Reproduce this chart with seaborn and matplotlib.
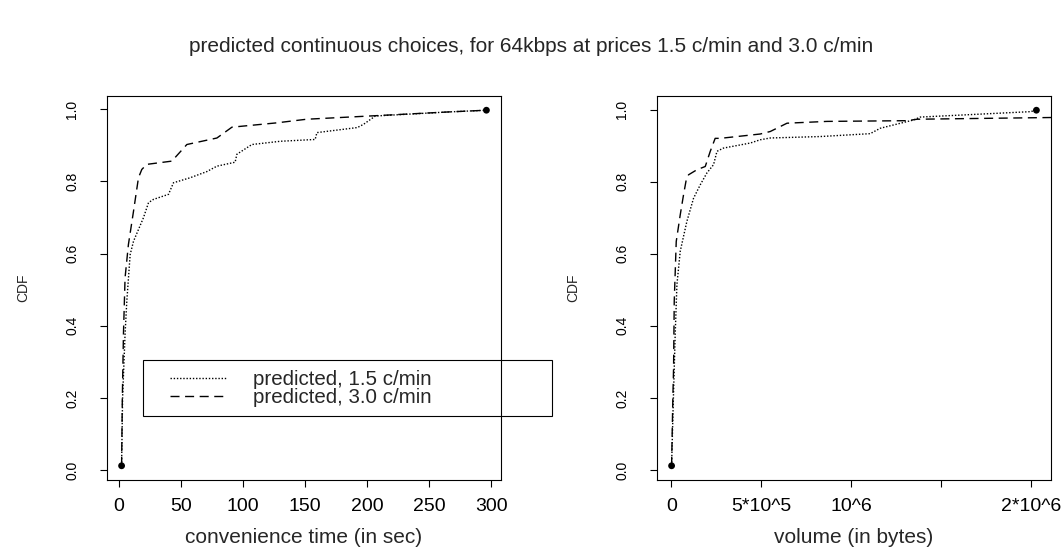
import numpy as np
import pandas as pd
import matplotlib
matplotlib.use("Agg")
import matplotlib.pyplot as plt
from matplotlib.patches import Rectangle
import seaborn as sns

# ---------------- data ----------------
title = "predicted continuous choices, for 64kbps at prices 1.5 c/min and 3.0 c/min"
series_labels = ["predicted, 1.5 c/min", "predicted, 3.0 c/min"]

# convenience time (sec)
time_x_15 = [2.0, 2.8, 4.8, 6.2, 8.9, 11.6, 19.6, 23.7, 27.7, 39.8, 43.8, 57.3, 70.7, 78.8,
             93.5, 94.9, 107, 130, 158, 159.4, 192, 197, 206.5, 264, 296]
time_y_15 = [0.012, 0.2, 0.377, 0.468, 0.597, 0.634, 0.699, 0.741, 0.75, 0.764, 0.796, 0.81,
             0.827, 0.842, 0.853, 0.875, 0.902, 0.911, 0.916, 0.935, 0.949, 0.958, 0.981,
             0.992, 0.997]
time_x_30 = [2.0, 2.6, 3.5, 4.8, 7.5, 11.6, 15.6, 18.3, 22.3, 42.5, 54.6, 78.8, 90.9, 127,
             151, 202, 264, 296]
time_y_30 = [0.012, 0.2, 0.377, 0.533, 0.625, 0.717, 0.81, 0.833, 0.847, 0.856, 0.902, 0.92,
             0.95, 0.962, 0.972, 0.981, 0.992, 0.997]

# volume (bytes)
vol_x_15 = [2000, 12000, 22000, 31500, 50000, 87000, 124000, 161000, 198000, 235000, 254000,
            290000, 439000, 494000, 550000, 828000, 1105000, 1161000, 1346000, 1383000,
            1994000, 2028000]
vol_y_15 = [0.012, 0.2, 0.376, 0.514, 0.607, 0.69, 0.754, 0.791, 0.824, 0.847, 0.884, 0.893,
            0.907, 0.916, 0.921, 0.925, 0.933, 0.948, 0.971, 0.979, 0.994, 0.998]
vol_x_30 = [2000, 9000, 13000, 16700, 27800, 50000, 68500, 83300, 96300, 142800, 189000,
            216700, 244000, 272000, 494000, 550000, 643000, 865000, 1309000, 1365000, 2300000]
vol_y_30 = [0.012, 0.2, 0.283, 0.468, 0.634, 0.708, 0.764, 0.805, 0.819, 0.833, 0.842, 0.884,
            0.92, 0.92, 0.932, 0.939, 0.962, 0.967, 0.969, 0.973, 0.979]

time_ticks = [0, 50, 100, 150, 200, 250, 300]
time_ticklabels = ["0", "50", "100", "150", "200", "250", "300"]
vol_ticks = [0, 5e5, 1e6, 1.5e6, 2e6]
vol_ticklabels = ["0", "5*10^5", "10^6", "", "2*10^6"]
cdf_ticks = [0.0, 0.2, 0.4, 0.6, 0.8, 1.0]
cdf_ticklabels = ["0.0", "0.2", "0.4", "0.6", "0.8", "1.0"]

# ---------------- style ----------------
sns.set_style("ticks")
plt.rcParams["font.family"] = ["Liberation Sans", "DejaVu Sans"]
plt.rcParams["axes.edgecolor"] = "black"
plt.rcParams["axes.linewidth"] = 0.8

W, H = 1063, 548
fig = plt.figure(figsize=(W / 100, H / 100), dpi=100)

def px_axes(x0, x1, y0, y1):
    return fig.add_axes([x0 / W, 1 - y1 / H, (x1 - x0) / W, (y1 - y0) / H])

ax1 = px_axes(107, 501, 96, 480)
ax2 = px_axes(657, 1051, 96, 480)

DOT = (0, (1.0, 1.3))
DASH = (0, (6.5, 4.0))
TFS = 14     # x tick label size
LBS = 15     # x axis label / title size
VFS = 10     # rotated text size

def panel(ax, x15, y15, x30, y30, dots_x, dots_y, xticks, xticklabels, xlabel):
    sns.lineplot(x=x15, y=y15, ax=ax, color="black", linewidth=1.0, linestyle=DOT,
                 estimator=None, sort=False, label=series_labels[0], legend=False)
    sns.lineplot(x=x30, y=y30, ax=ax, color="black", linewidth=1.0, linestyle=DASH,
                 estimator=None, sort=False, label=series_labels[1], legend=False)
    sns.scatterplot(x=dots_x, y=dots_y, ax=ax, color="black", s=24, edgecolor="none",
                    zorder=5, legend=False)
    span = dots_x[1] - dots_x[0]
    ax.set_xlim(dots_x[0] - 0.04 * span, dots_x[1] + 0.04 * span)
    yspan = dots_y[1] - dots_y[0]
    ax.set_ylim(dots_y[0] - 0.04 * yspan, dots_y[1] + 0.04 * yspan)
    ax.set_xticks(xticks)
    ax.set_xticklabels(xticklabels, fontsize=TFS)
    ax.set_yticks(cdf_ticks)
    ax.set_yticklabels(cdf_ticklabels, fontsize=VFS, rotation=90, va="center")
    ax.tick_params(axis="both", direction="out", length=5, width=0.8, colors="black")
    ax.tick_params(axis="x", pad=8)
    ax.tick_params(axis="y", pad=15)
    ax.set_xlabel(xlabel, fontsize=LBS, labelpad=9)
    ax.set_ylabel("CDF", fontsize=VFS, labelpad=25)
    for s in ax.spines.values():
        s.set_visible(True)
        s.set_color("black")
        s.set_linewidth(0.8)

panel(ax1, time_x_15, time_y_15, time_x_30, time_y_30,
      [time_x_15[0], time_x_15[-1]], [time_y_15[0], time_y_15[-1]],
      time_ticks, time_ticklabels, "convenience time (in sec)")
panel(ax2, vol_x_15, vol_y_15, vol_x_30, vol_y_30,
      [vol_x_15[0], vol_x_15[-1]], [vol_y_15[0], vol_y_15[-1]],
      vol_ticks, vol_ticklabels, "volume (in bytes)")

fig.suptitle(title, x=0.5, y=1 - 47 / H, va="center", fontsize=LBS)

# legend
LFS = 14.8
handles = ax1.get_lines()[:2]
leg = fig.legend(handles, series_labels, loc="center left",
                 bbox_to_anchor=(170 / W, 1 - 388.5 / H), bbox_transform=fig.transFigure,
                 frameon=False, fontsize=LFS, borderpad=0, borderaxespad=0,
                 handlelength=2.77, handletextpad=1.26, labelspacing=-0.05)
fig.add_artist(Rectangle((143 / W, 1 - 416 / H), (552 - 143) / W, (416 - 360) / H,
                         transform=fig.transFigure, fill=False, edgecolor="black",
                         linewidth=0.8, zorder=10))

fig.savefig("out.png", dpi=100)
